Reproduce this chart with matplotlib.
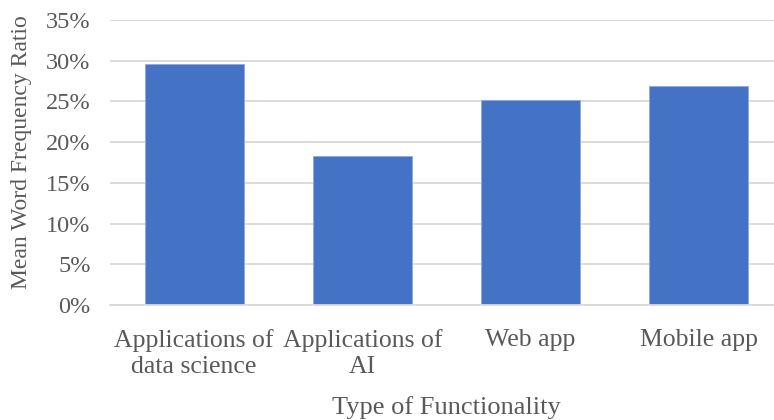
import matplotlib
matplotlib.use("Agg")
import matplotlib.pyplot as plt
from matplotlib.ticker import FuncFormatter, MultipleLocator

categories = ["Applications of\ndata science", "Applications of\nAI", "Web app", "Mobile app"]
values = [29.6, 18.3, 25.15, 26.95]

plt.rcParams['font.family'] = ['Liberation Serif', 'DejaVu Serif']

W, H = 774, 420
fig = plt.figure(figsize=(W / 100, H / 100), dpi=100)
left, right, bottom, top = 110, 783, 305, 20
ax = fig.add_axes([left / W, 1 - bottom / H, (right - left) / W, (bottom - top) / H])

x = range(len(categories))
ax.bar(x, values, width=0.587, color="#4472C4", edgecolor="#8FAADC", linewidth=0.6, zorder=3)

ax.set_ylim(0, 35)
ax.set_xlim(-0.5, 3.5)
ax.yaxis.set_major_locator(MultipleLocator(5))
ax.yaxis.set_major_formatter(FuncFormatter(lambda v, p: f"{v:.0f}%"))
ax.grid(axis="y", color="#D9D9D9", linewidth=1.3, zorder=0)
ax.set_axisbelow(True)
for s in ["top", "right", "left"]:
    ax.spines[s].set_visible(False)
ax.spines["bottom"].set_color("#D9D9D9")
ax.spines["bottom"].set_linewidth(1.3)
ax.spines["bottom"].set_zorder(4)

ax.set_xticks(list(x))
ax.set_xticklabels(categories, linespacing=1.28)
ax.tick_params(axis="x", length=0, labelsize=18.5, colors="#595959", pad=17)
ax.tick_params(axis="y", length=0, labelsize=17.5, colors="#595959", pad=14)

ax.set_ylabel("Mean Word Frequency Ratio", fontsize=17, color="#595959")
ax.yaxis.label.set_va("center")
ax.yaxis.set_label_coords((22 - left) / (right - left), (bottom - 152.5) / (bottom - top))
ax.set_xlabel("Type of Functionality", fontsize=19, color="#595959")
ax.xaxis.label.set_va("top")
ax.xaxis.set_label_coords(0.5, (bottom - 396) / (bottom - top))

fig.savefig("out.png", dpi=100)
